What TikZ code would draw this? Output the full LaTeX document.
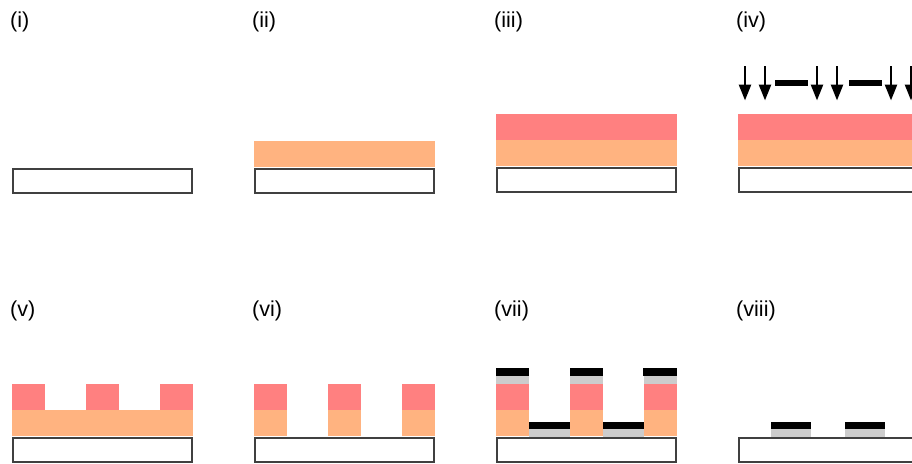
\documentclass[tikz,border=0pt]{standalone}
\usepackage{xcolor}
\usepackage{fontspec}
\setmainfont{Liberation Sans}
\usepackage{tikz}
\usetikzlibrary{arrows.meta, positioning}

\definecolor{resist}{HTML}{FF8080}
\definecolor{lor}{HTML}{FFB380}
\definecolor{seed}{HTML}{CCCCCC}

\tikzset{
    layer/.style={anchor=north west, inner sep=0pt, outer sep=0pt, minimum height=26pt},
    substrate/.style={layer, draw=black!75, line width=2pt, fill=white, minimum width=178.4pt, minimum height=24pt},
    lorfull/.style={layer, fill=lor, minimum width=180.4pt},
    resistfull/.style={layer, fill=resist, minimum width=180.4pt},
    lorpad/.style={layer, fill=lor, minimum width=32.6pt},
    resistpad/.style={layer, fill=resist, minimum width=32.6pt},
    seedcap/.style={layer, fill=seed, minimum height=7.5pt},
    metalcap/.style={layer, fill=black, minimum height=7.5pt},
    mask/.style={anchor=center, fill=black, inner sep=0pt, minimum width=33pt, minimum height=5.4pt},
    expose/.style={-{Triangle[length=16pt,width=12pt]}, line width=2.6pt, black},
    steplabel/.style={anchor=west, inner sep=0pt, font=\fontsize{21.6}{26}\selectfont},
}

\begin{document}
\begin{tikzpicture}[x=1pt, y=-1pt]
    \clip (0,0) rectangle (912,463);

    % labels
    \foreach \i/\j/\label in {10/22/i, 252/22/ii, 494/22/iii, 736/22/iv, 10/311/v, 252/311/vi, 494/311/vii, 736/311/viii} {
        \node[steplabel] (label\label) at (\i, \j) {(\label)};
    }

    % full layers
    \node[lorfull, minimum height=25.8pt] (lorii) at (254.2, 141) {};
    \node[lorfull] (loriii) at (496.2, 140) {};
    \node[resistfull] (resistiii) at (496.2, 114) {};
    \node[lorfull] (loriv) at (738.2, 140) {};
    \node[resistfull] (resistiv) at (738.2, 114) {};
    \node[lorfull] (lorv) at (12.2, 410) {};

    % substrates
    \foreach \i/\j/\label in {13.3/168.6/i, 255.3/168.6/ii, 497.3/168.2/iii, 739.3/168.2/iv, 13.3/438/v, 255.3/438/vi, 497.3/438/vii, 739.3/438/viii} {
        \node[substrate] (sub\label) at (\i, \j) {};
    }

    % pads
    \foreach \i/\k in {12.2/a, 86.4/b, 160/c} {
        \node[resistpad] (resistv\k) at (\i, 384) {};
    }
    \foreach \i/\k in {254.2/a, 328.4/b, 402/c} {
        \node[resistpad] (resistvi\k) at (\i, 384) {};
        \node[lorpad] (lorvi\k) at (\i, 410) {};
    }
    \foreach \i/\k in {496.2/a, 570.4/b, 644/c} {
        \node[resistpad] (resistvii\k) at (\i, 384) {};
        \node[lorpad] (lorvii\k) at (\i, 410) {};
        \node[seedcap, minimum width=32.6pt] (seedvii\k) at (\i, 376) {};
        \node[metalcap, minimum width=33.7pt] (metalvii\k) at (\i-0.7, 368) {};
    }

    % lifted metal
    \foreach \i/\k in {529.2/a, 603.2/b} {
        \node[seedcap, minimum width=40.4pt] (seedlow\k) at (\i, 429) {};
        \node[metalcap, minimum width=40.4pt] (metallow\k) at (\i, 421.6) {};
    }
    \foreach \i/\k in {770.8/a, 844.8/b} {
        \node[seedcap, minimum width=40.4pt] (seedviii\k) at (\i, 429) {};
        \node[metalcap, minimum width=40.4pt] (metalviii\k) at (\i, 421.6) {};
    }

    % exposure
    \node[mask] (maska) at (791.3, 83) {};
    \node[mask] (maskb) at (865, 83) {};
    \foreach \i/\k in {745/a, 765/b, 817/c, 837/d, 891/e, 911/f} {
        \coordinate (top\k) at (\i, 66);
        \coordinate (tip\k) at (\i, 100.5);
        \draw[expose] (top\k) -- (tip\k);
    }
\end{tikzpicture}
\end{document}
